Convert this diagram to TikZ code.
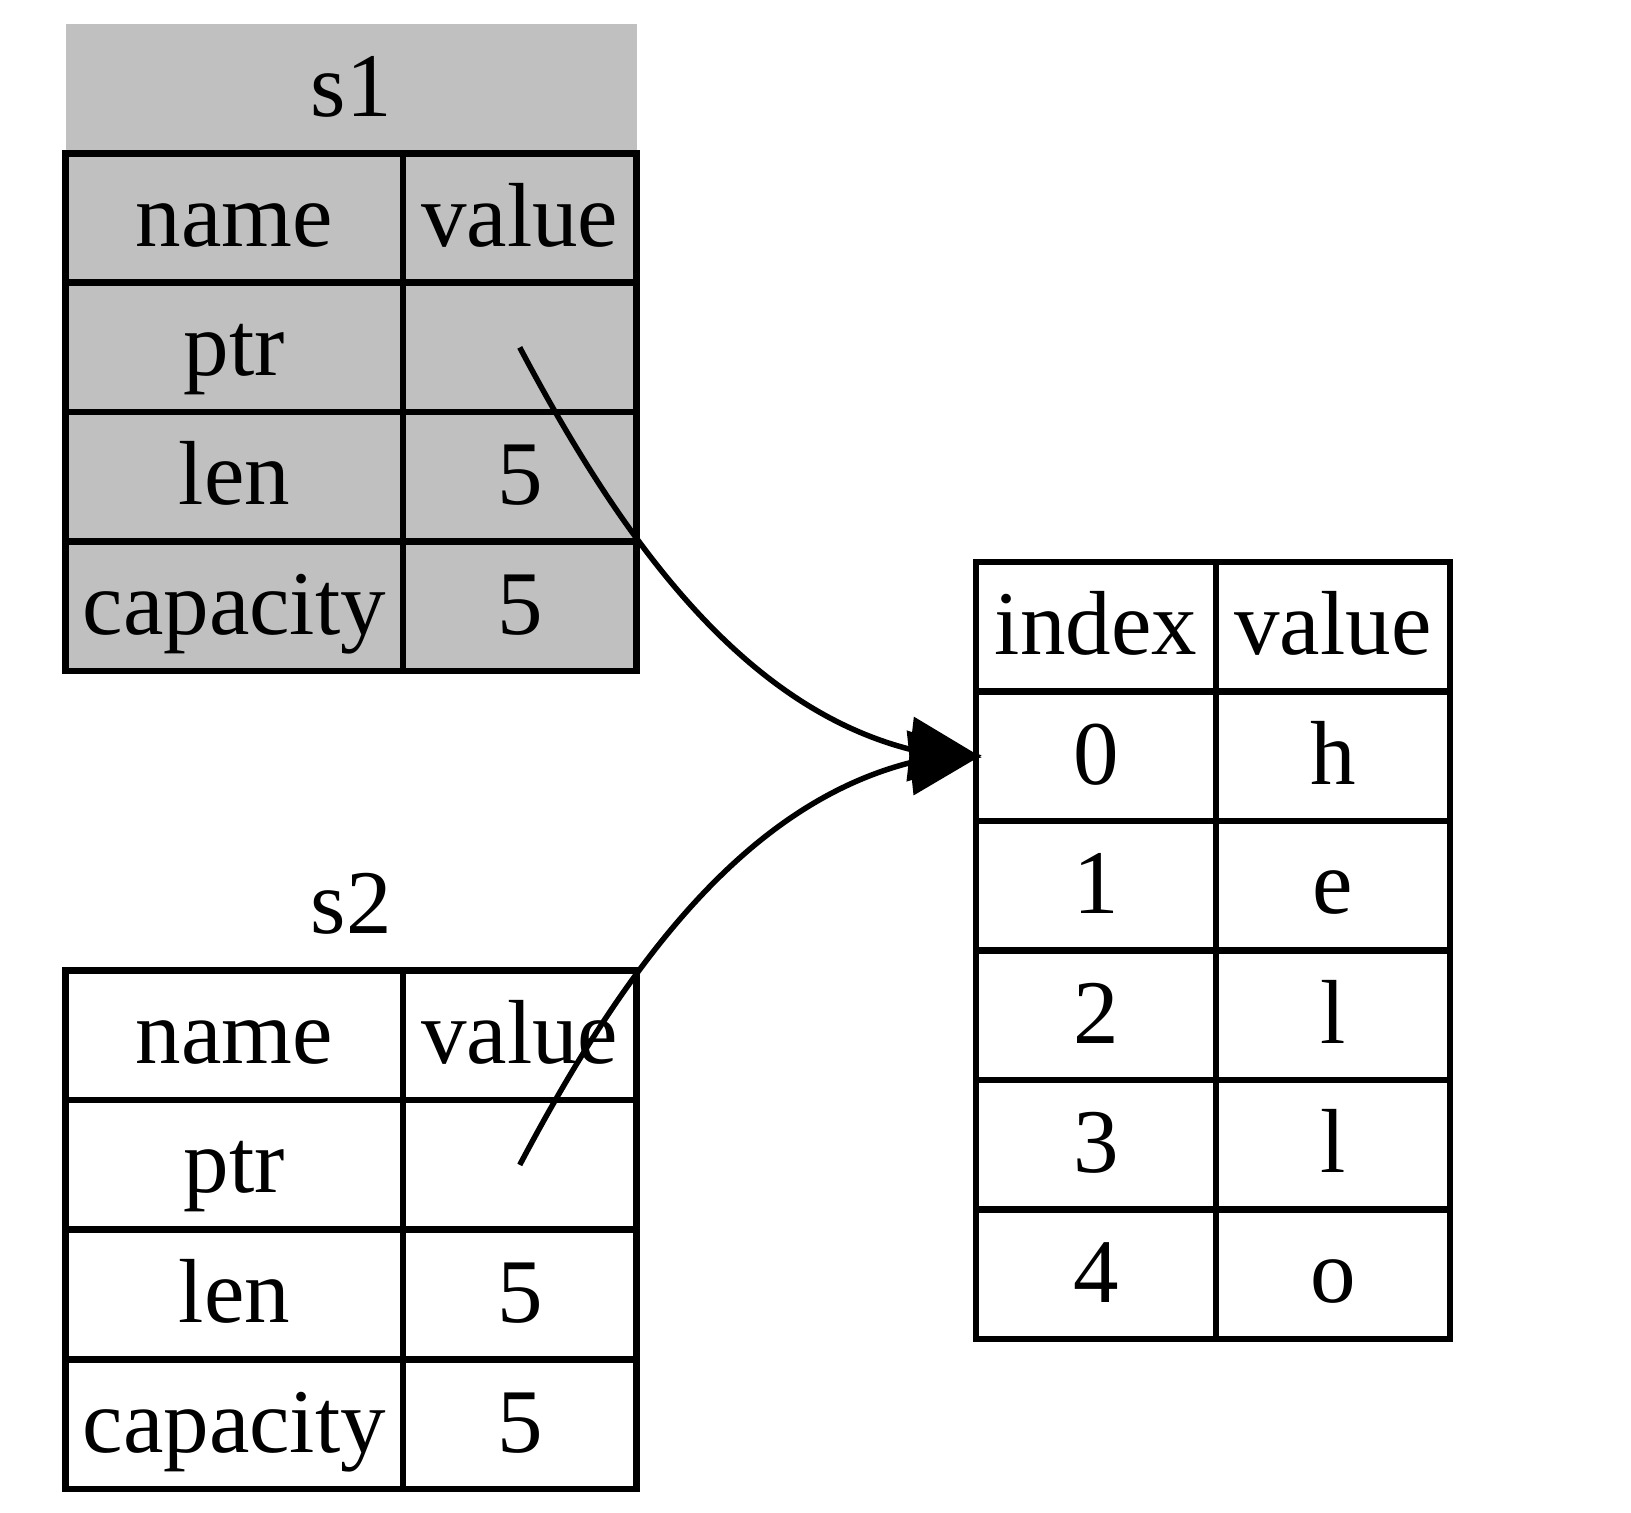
\documentclass[tikz,border=0pt]{standalone}
\usepackage{fontspec}
\setmainfont{Liberation Serif}
\usetikzlibrary{arrows.meta}
\definecolor{cellgray}{HTML}{C0C0C0}
\begin{document}
\begin{tikzpicture}[x=1pt,y=-1pt,
  txt/.style={inner sep=0pt, text height=62pt, text depth=6pt, font=\fontsize{91}{100}\selectfont, anchor=center},
  cell/.style={txt, draw, line width=6.5pt, minimum height=129.5pt},
  namecol/.style={minimum width=337.3pt},
  valcol/.style={minimum width=233.5pt},
  idxcol/.style={minimum width=240pt},
  vcol/.style={minimum width=234pt},
  grayfill/.style={fill=cellgray},
  titlecell/.style={txt, minimum width=570.8pt, minimum height=129.3pt},
  edge/.style={line width=5.5pt, -{Triangle[length=72pt,width=64pt]}, shorten >=-9pt}]
\useasboundingbox (0,0) rectangle (1631,1513);

% s1
\node[titlecell, grayfill] (s1title) at (351.1,88.65) {s1};
\node[cell, namecol, grayfill] (s1name)  at (234.35,218.0) {name};
\node[cell, valcol, grayfill]  (s1value) at (519.75,218.0) {value};
\node[cell, namecol, grayfill] (s1ptrn)  at (234.35,347.4) {ptr};
\node[cell, valcol, grayfill]  (s1ptr)   at (519.75,347.4) {};
\node[cell, namecol, grayfill] (s1lenn)  at (234.35,476.8) {len};
\node[cell, valcol, grayfill]  (s1len)   at (519.75,476.8) {5};
\node[cell, namecol, grayfill] (s1capn)  at (234.35,606.2) {capacity};
\node[cell, valcol, grayfill]  (s1cap)   at (519.75,606.2) {5};

% s2
\node[titlecell] (s2title) at (351.1,905.8) {s2};
\node[cell, namecol] (s2name)  at (234.35,1035.3) {name};
\node[cell, valcol]  (s2value) at (519.75,1035.3) {value};
\node[cell, namecol] (s2ptrn)  at (234.35,1164.9) {ptr};
\node[cell, valcol]  (s2ptr)   at (519.75,1164.9) {};
\node[cell, namecol] (s2lenn)  at (234.35,1294.5) {len};
\node[cell, valcol]  (s2len)   at (519.75,1294.5) {5};
\node[cell, namecol] (s2capn)  at (234.35,1424.1) {capacity};
\node[cell, valcol]  (s2cap)   at (519.75,1424.1) {5};

% heap table
\node[cell, idxcol] (hidx) at (1096,626.75) {index};
\node[cell, vcol]   (hval) at (1333,626.75) {value};
\node[cell, idxcol] (i0) at (1096,756.25) {0};
\node[cell, vcol]   (v0) at (1333,756.25) {h};
\node[cell, idxcol] (i1) at (1096,885.75) {1};
\node[cell, vcol]   (v1) at (1333,885.75) {e};
\node[cell, idxcol] (i2) at (1096,1015.25) {2};
\node[cell, vcol]   (v2) at (1333,1015.25) {l};
\node[cell, idxcol] (i3) at (1096,1144.75) {3};
\node[cell, vcol]   (v3) at (1333,1144.75) {l};
\node[cell, idxcol] (i4) at (1096,1274.25) {4};
\node[cell, vcol]   (v4) at (1333,1274.25) {o};

% pointers
\draw[edge] (s1ptr.center) .. controls (620,537) and (740,705) .. (909,749) -- (i0.west);
\draw[edge] (s2ptr.center) .. controls (620,975) and (740,807) .. (909,763) -- (i0.west);
\end{tikzpicture}
\end{document}
